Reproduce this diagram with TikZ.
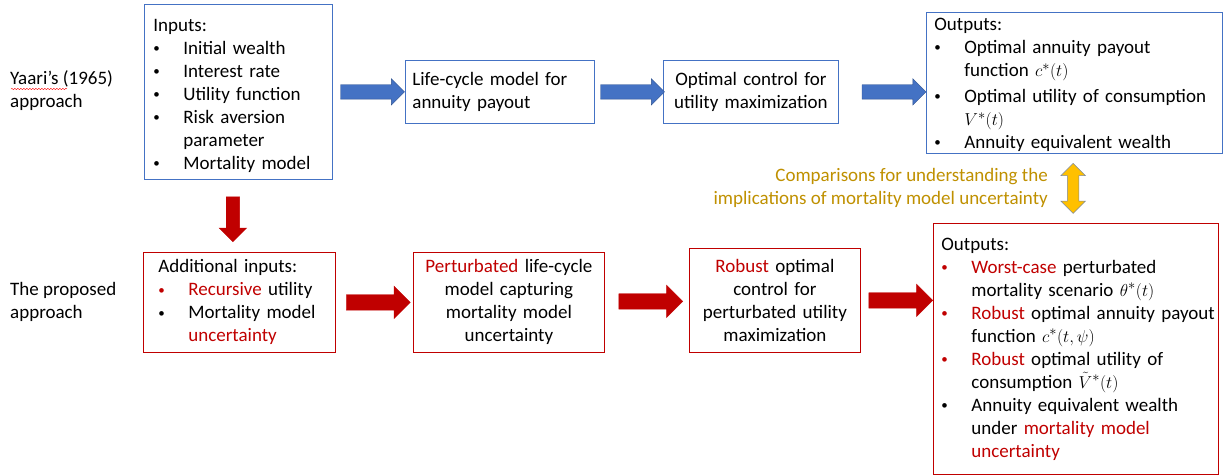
\documentclass[tikz,border=0pt]{standalone}
\usepackage{fontspec}
\setmainfont{Carlito}
\usetikzlibrary{shapes.arrows,calc,decorations.pathmorphing}

\definecolor{boxblue}{HTML}{4472C4}
\definecolor{arrowblue}{HTML}{4472C4}
\definecolor{arrowedge}{HTML}{2F528F}
\definecolor{boxred}{HTML}{C00000}
\definecolor{redtxt}{HTML}{C00000}
\definecolor{goldtxt}{HTML}{BF9000}
\definecolor{yellowfill}{HTML}{FFC000}
\definecolor{yellowedge}{HTML}{7C8AA0}

% bullet line and indented line, never wrapped
\newcommand{\bl}[2][black]{\mbox{\makebox[30pt][l]{\textcolor{#1}{\raisebox{1.5pt}{\fontsize{13}{13}\selectfont\textbullet}}}#2}}
\newcommand{\ind}[1]{\mbox{\hspace*{30pt}#1}}
\newcommand{\rd}[1]{\textcolor{redtxt}{#1}}

\begin{document}
\begin{tikzpicture}[x=1pt,y=-1pt,
  every node/.style={font=\fontsize{19}{23}\selectfont, inner sep=0pt},
  bluebox/.style={draw=boxblue, line width=0.8pt, anchor=north west},
  redbox/.style={draw=boxred, line width=0.8pt, anchor=north west},
  bluearrow/.style={single arrow, draw=arrowedge, fill=arrowblue, line width=0.4pt,
    minimum height=64pt, inner ysep=7pt, single arrow head extend=6pt},
  redarrow/.style={single arrow, draw=redtxt, fill=redtxt, line width=0.4pt,
    minimum height=64pt, inner ysep=7.5pt, single arrow head extend=8.5pt}]
\useasboundingbox (0,0) rectangle (1225,475);

% left labels
\node[anchor=west, align=left] (yaari) at (10,91) {Yaari's (1965)\\approach};
\draw[red, decorate, decoration={snake, amplitude=0.7pt, segment length=3pt}] (11,89) -- (67,89);
\node[anchor=west, align=left] (prop) at (10,301.5) {The proposed\\approach};

% top row
\node[bluebox, align=left, minimum width=188pt, minimum height=175pt, text width=170pt, inner xsep=9pt] (in) at (144,4)
  {\rule{0pt}{19.5pt}Inputs:\\ \bl{Initial wealth}\\ \bl{Interest rate}\\ \bl{Utility function}\\ \bl{Risk aversion}\\ \ind{parameter}\\ \bl{Mortality model}};
\node[bluebox, align=left, minimum width=189pt, minimum height=63pt, text width=175pt, inner xsep=7pt] (lc) at (405,60)
  {Life-cycle model for\\annuity payout};
\node[bluebox, align=center, minimum width=175pt, minimum height=63pt, text width=165pt, inner xsep=5pt] (oc) at (663,60)
  {Optimal control for\\utility maximization};
\node[bluebox, align=left, minimum width=296pt, minimum height=141pt, text width=280pt, inner xsep=8pt] (out1) at (926,12)
  {\rule{0pt}{16pt}Outputs:\\ \bl{Optimal annuity payout}\\ \ind{function $c^{*}(t)$}\\[3pt] \bl{Optimal utility of consumption}\\ \ind{$V^{*}(t)$}\\ \bl{Annuity equivalent wealth}};

% bottom row
\node[redbox, align=left, minimum width=192pt, minimum height=100pt, text width=162pt, inner xsep=15pt] (add) at (143,252)
  {Additional inputs:\\ \bl[redtxt]{\rd{Recursive} utility}\\ \bl{Mortality model}\\ \ind{\rd{uncertainty}}};
\node[redbox, align=center, minimum width=191pt, minimum height=100pt, text width=181pt, inner xsep=5pt] (pert) at (413,252)
  {\rd{Perturbated} life-cycle\\model capturing\\mortality model\\uncertainty};
\node[redbox, align=center, minimum width=171pt, minimum height=104pt, text width=163pt, inner xsep=4pt] (rob) at (689,248)
  {\rd{Robust} optimal\\control for\\perturbated utility\\maximization};
\node[redbox, align=left, minimum width=285pt, minimum height=251pt, text width=269pt, inner xsep=8pt] (out2) at (933,223)
  {Outputs:\\ \bl[redtxt]{\rd{Worst-case} perturbated}\\ \ind{mortality scenario $\theta^{*}(t)$}\\
   \bl[redtxt]{\rd{Robust} optimal annuity payout}\\ \ind{function $c^{*}(t,\psi)$}\\
   \bl[redtxt]{\rd{Robust} optimal utility of}\\ \ind{consumption $\tilde{V}^{*}(t)$}\\
   \bl{Annuity equivalent wealth}\\ \ind{under \rd{mortality model}}\\ \ind{\rd{uncertainty}}};

% arrows
\node[bluearrow] (a1) at ($(in.east)!0.5!(lc.west)$) {};
\node[bluearrow] (a2) at ($(lc.east)!0.5!(oc.west)$) {};
\node[bluearrow] (a3) at ($(oc.east)!0.5!(oc.east -| out1.west)+(8,0)$) {};
\node[redarrow, rotate=-90, minimum height=45pt, inner ysep=6.5pt, single arrow head extend=7pt] (down)
  at ($(in.south)!0.5!(add.north)+(-6,0)$) {};
\node[redarrow] (r1) at ($(add.east)!0.5!(pert.west)$) {};
\node[redarrow] (r2) at ($(pert.east)!0.5!(rob.west)$) {};
\node[redarrow] (r3) at ($(rob.east)!0.5!(rob.east -| out2.west)$) {};

% comparison
\node[double arrow, rotate=90, draw=yellowedge, fill=yellowfill, line width=0.5pt, minimum height=50pt,
  inner ysep=5.5pt, double arrow head extend=6.5pt] (cmp) at ($(out1.south)!0.5!(out2.north)+(-2,0)$) {};
\node[anchor=east, align=right, text=goldtxt] (cmptxt) at (1048,188)
  {Comparisons for understanding the\\implications of mortality model uncertainty};
\end{tikzpicture}
\end{document}
